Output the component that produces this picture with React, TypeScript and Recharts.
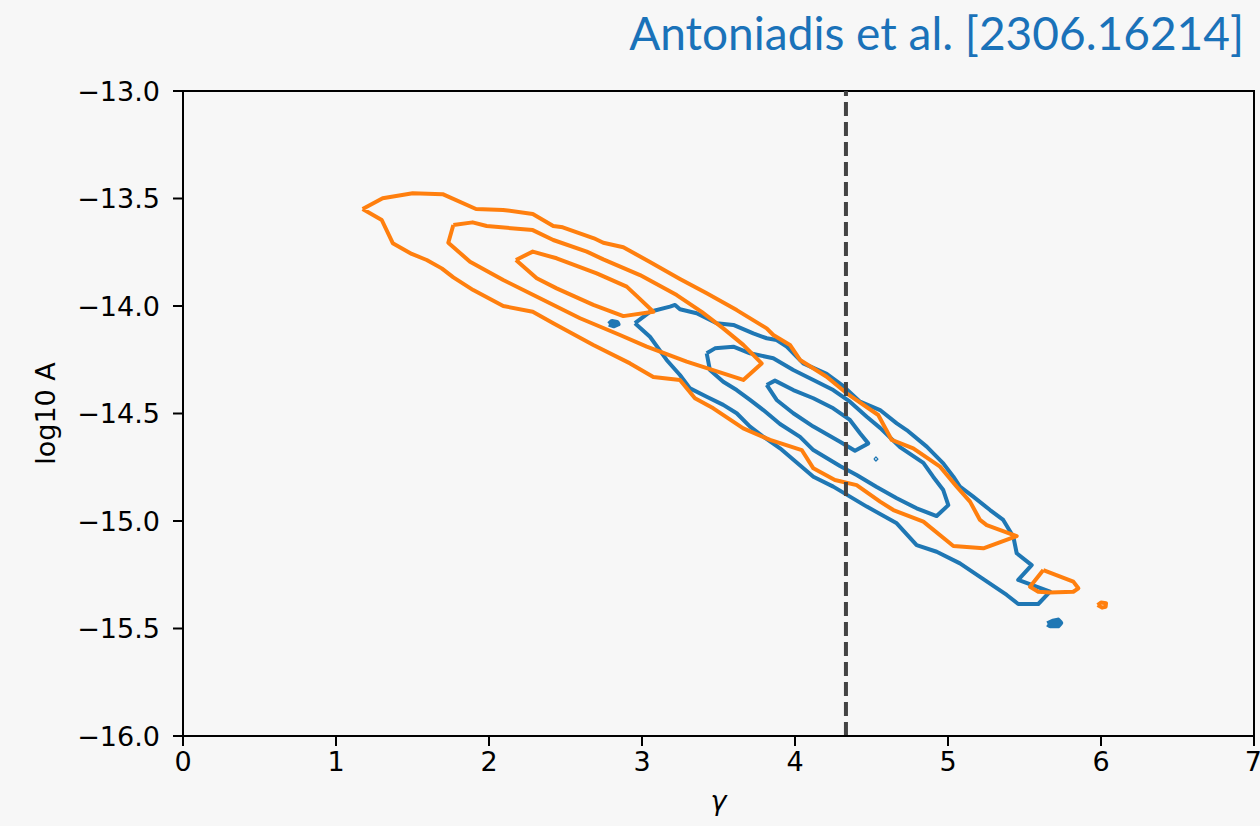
import { ComposedChart, Line, XAxis, YAxis, ReferenceLine, ReferenceArea } from "recharts";

// axis ticks
const xTicks = [0, 1, 2, 3, 4, 5, 6, 7];
const yTicks = [-16, -15.5, -15, -14.5, -14, -13.5, -13];
const gammaRef = 4.333;

// contour levels, [gamma, log10 A] along each path
const blueOuter = [
  [2.954, -14.08], [3.052, -14.027], [3.183, -14.003], [3.216, -13.995], [3.248, -14.015],
  [3.357, -14.034], [3.488, -14.08], [3.597, -14.088], [3.727, -14.127], [3.815, -14.15],
  [3.88, -14.158], [3.946, -14.189], [4.054, -14.267], [4.207, -14.316], [4.314, -14.372],
  [4.425, -14.445], [4.556, -14.484], [4.665, -14.546], [4.73, -14.577], [4.861, -14.654],
  [4.969, -14.732], [5.035, -14.794], [5.078, -14.84], [5.165, -14.887], [5.275, -14.949],
  [5.361, -14.995], [5.427, -15.073], [5.449, -15.15], [5.547, -15.205], [5.459, -15.274],
  [5.667, -15.329], [5.59, -15.386], [5.459, -15.386], [5.384, -15.344], [5.209, -15.26],
  [5.078, -15.197], [4.926, -15.143], [4.795, -15.112], [4.665, -15.011], [4.469, -14.933],
  [4.25, -14.84], [4.12, -14.794], [3.902, -14.662], [3.793, -14.608], [3.706, -14.561],
  [3.619, -14.499], [3.531, -14.46], [3.423, -14.422], [3.314, -14.383], [3.248, -14.321],
  [3.161, -14.251], [3.107, -14.197], [3.052, -14.143],
];
const blueMiddle = [
  [3.423, -14.22], [3.477, -14.197], [3.597, -14.189], [3.706, -14.22], [3.858, -14.243],
  [3.989, -14.298], [4.12, -14.344], [4.25, -14.391], [4.359, -14.445], [4.469, -14.515],
  [4.556, -14.567], [4.686, -14.656], [4.839, -14.73], [4.904, -14.795], [4.969, -14.856],
  [5.002, -14.926], [4.926, -14.977], [4.795, -14.941], [4.665, -14.894], [4.534, -14.842],
  [4.403, -14.786], [4.294, -14.744], [4.12, -14.67], [4.033, -14.609], [3.902, -14.549],
  [3.793, -14.484], [3.706, -14.437], [3.619, -14.391], [3.531, -14.352], [3.444, -14.298],
];
const blueInner = [
  [3.815, -14.367], [3.869, -14.347], [3.989, -14.391], [4.12, -14.429], [4.25, -14.476],
  [4.359, -14.53], [4.425, -14.592], [4.479, -14.639], [4.392, -14.673], [4.294, -14.631],
  [4.12, -14.561], [3.989, -14.499], [3.88, -14.437],
];
const blueIslandA = [[2.784, -14.084], [2.804, -14.072], [2.837, -14.076], [2.843, -14.084], [2.817, -14.092]];
const blueIslandB = [[5.651, -15.479], [5.686, -15.467], [5.719, -15.462], [5.735, -15.474], [5.719, -15.486], [5.667, -15.486]];
const blueSpeck = [[4.516, -14.712], [4.529, -14.702], [4.542, -14.712], [4.529, -14.721]];

const orangeOuter = [
  [1.174, -13.549], [1.305, -13.499], [1.501, -13.476], [1.697, -13.48], [1.915, -13.549],
  [2.092, -13.553], [2.286, -13.572], [2.42, -13.628], [2.482, -13.634], [2.686, -13.685],
  [2.747, -13.706], [2.878, -13.727], [3.052, -13.795], [3.248, -13.874], [3.423, -13.941],
  [3.619, -14.019], [3.815, -14.104], [3.858, -14.135], [3.967, -14.181], [4.033, -14.251],
  [4.207, -14.329], [4.338, -14.406], [4.544, -14.507], [4.632, -14.623], [4.773, -14.662],
  [4.948, -14.747], [5.057, -14.84], [5.144, -14.91], [5.209, -14.995], [5.253, -15.019],
  [5.449, -15.07], [5.231, -15.127], [5.035, -15.116], [4.839, -15.003], [4.643, -14.949],
  [4.556, -14.91], [4.403, -14.833], [4.261, -14.809], [4.12, -14.755], [4.044, -14.67],
  [3.837, -14.623], [3.662, -14.569], [3.466, -14.476], [3.346, -14.429], [3.248, -14.344],
  [3.074, -14.33], [2.922, -14.267], [2.682, -14.181], [2.42, -14.08], [2.286, -14.027],
  [2.093, -14.0], [1.897, -13.926], [1.767, -13.867], [1.691, -13.825], [1.593, -13.786],
  [1.495, -13.758], [1.371, -13.708], [1.299, -13.6],
];
const orangeMiddle = [
  [1.767, -13.623], [1.893, -13.611], [1.985, -13.628], [2.286, -13.647], [2.42, -13.693],
  [2.639, -13.747], [2.747, -13.783], [2.987, -13.856], [3.227, -13.949], [3.39, -14.027],
  [3.531, -14.104], [3.662, -14.181], [3.782, -14.267], [3.662, -14.344], [3.292, -14.259],
  [3.031, -14.189], [2.856, -14.135], [2.595, -14.057], [2.29, -13.949], [2.093, -13.879],
  [1.876, -13.794], [1.734, -13.706],
];
const orangeInner = [
  [2.176, -13.786], [2.286, -13.747], [2.442, -13.778], [2.704, -13.848], [2.9, -13.91],
  [2.965, -13.953], [3.074, -14.027], [2.878, -14.047], [2.682, -13.995], [2.442, -13.918],
  [2.312, -13.871],
];
const orangeIslandA = [
  [5.623, -15.228], [5.819, -15.282], [5.852, -15.313], [5.819, -15.329], [5.667, -15.333],
  [5.59, -15.329], [5.536, -15.306],
];
const orangeIslandB = [[5.978, -15.391], [6.0, -15.379], [6.033, -15.383], [6.03, -15.399], [6.007, -15.403]];

const BLUE = "#1f77b4";
const ORANGE = "#ff7f0e";
const FONT = "DejaVu Sans";

const loop = (pts: number[][]) => [...pts, pts[0]].map(([x, y]) => ({ x, y }));

const contours = [
  { key: "b1", pts: blueOuter, color: BLUE, w: 4 },
  { key: "b2", pts: blueMiddle, color: BLUE, w: 4 },
  { key: "b3", pts: blueInner, color: BLUE, w: 4 },
  { key: "b4", pts: blueIslandA, color: BLUE, w: 5 },
  { key: "b5", pts: blueIslandB, color: BLUE, w: 5.5 },
  { key: "b6", pts: blueSpeck, color: BLUE, w: 1.3 },
  { key: "o1", pts: orangeOuter, color: ORANGE, w: 4 },
  { key: "o2", pts: orangeMiddle, color: ORANGE, w: 4 },
  { key: "o3", pts: orangeInner, color: ORANGE, w: 4 },
  { key: "o4", pts: orangeIslandA, color: ORANGE, w: 4 },
  { key: "o5", pts: orangeIslandB, color: ORANGE, w: 4 },
];

const fmt = (v: number) => v.toFixed(1).replace("-", "\u2212");

export default function App() {
  return (
    <div style={{ position: "absolute", left: 0, top: 0, width: 1260, height: 826, background: "#f7f7f7" }}>
      <ComposedChart width={1260} height={826} margin={{ top: 91, right: 6, bottom: 40, left: 83 }}>
        <XAxis
          type="number"
          dataKey="x"
          domain={[0, 7]}
          ticks={xTicks}
          height={50}
          tickSize={10}
          tickMargin={6}
          stroke="#000"
          strokeWidth={2}
          tick={{ fill: "#000", fontSize: 27, fontFamily: FONT }}
          allowDataOverflow
        />
        <YAxis
          type="number"
          dataKey="y"
          domain={[-16, -13]}
          ticks={yTicks}
          width={100}
          tickSize={10}
          tickMargin={13}
          tickFormatter={fmt}
          stroke="#000"
          strokeWidth={2}
          tick={{ fill: "#000", fontSize: 27, fontFamily: FONT }}
          allowDataOverflow
        />
        <ReferenceArea x1={0} x2={7} y1={-16} y2={-13} fill="none" stroke="#000" strokeWidth={2} fillOpacity={0} />
        {contours.map((c) => (
          <Line
            key={c.key}
            data={loop(c.pts)}
            dataKey="y"
            type="linear"
            stroke={c.color}
            strokeWidth={c.w}
            strokeLinejoin="round"
            dot={false}
            activeDot={false}
            legendType="none"
            isAnimationActive={false}
          />
        ))}
        <ReferenceLine x={gammaRef} stroke="#444" strokeWidth={4} strokeDasharray="14 6" />
      </ComposedChart>
      <svg width={1260} height={826} style={{ position: "absolute", left: 0, top: 0, pointerEvents: "none" }}>
        <text x={1244} y={50} textAnchor="end" fontFamily="Lato" fontSize={46} fill="#1a72b9">
          Antoniadis et al. [2306.16214]
        </text>
        <text x={718.5} y={810} textAnchor="middle" fontFamily={FONT} fontStyle="italic" fontSize={27} fill="#000">
          γ
        </text>
        <text transform="translate(55,413.5) rotate(-90)" textAnchor="middle" fontFamily={FONT} fontSize={27} fill="#000">
          log10 A
        </text>
      </svg>
    </div>
  );
}
